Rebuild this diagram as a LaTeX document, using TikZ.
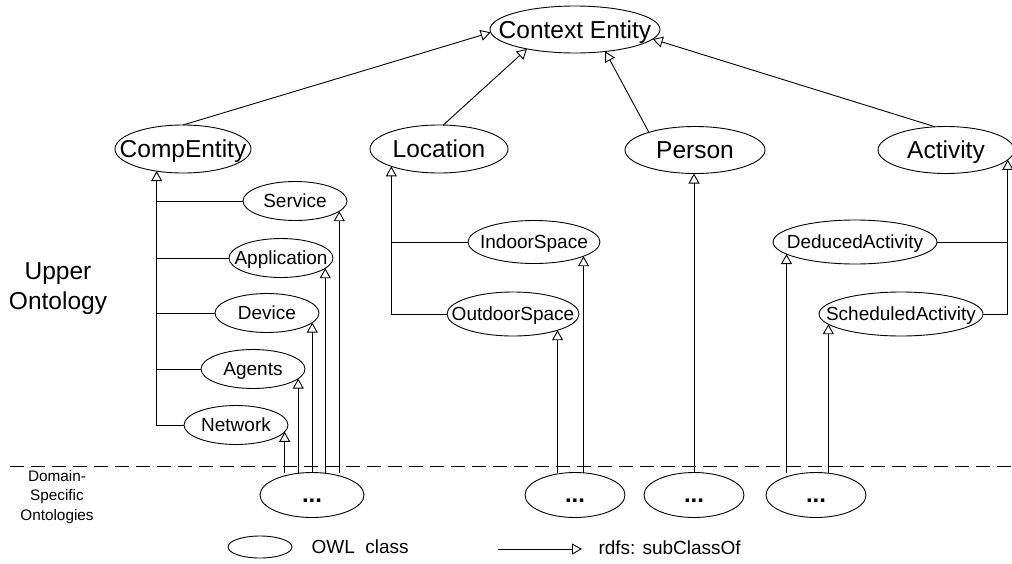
\documentclass[tikz,border=0pt]{standalone}
\usepackage{fontspec}
\setmainfont{Liberation Sans}
\usetikzlibrary{arrows.meta,shapes.geometric}
\tikzset{
  cls/.style 2 args={ellipse, draw, line width=0.9pt, minimum width=#1, minimum height=#2,
    inner sep=0pt, outer sep=0pt,
    execute at begin node={\hbox to 0pt\bgroup\hss},
    execute at end node={\hss\egroup}},
  big/.style={font=\fontsize{24.5}{30}\selectfont, text height=17.6pt, text depth=0pt},
  small/.style={font=\fontsize{19}{22}\selectfont, text height=13.7pt, text depth=0pt},
  dots/.style={font=\fontsize{24}{26}\selectfont\bfseries, text height=14pt, text depth=0pt},
  sub/.style={-{Triangle[open,length=10pt,width=11pt]}, line width=0.9pt},
  link/.style={line width=0.9pt},
}
\begin{document}
\begin{tikzpicture}[x=1pt,y=-1pt]
\useasboundingbox (0,0) rectangle (1012,563);
% upper classes
\node[cls={170pt}{47pt}, big] (ctx) at (575,29.5) {Context Entity};
\node[cls={136pt}{48pt}, big] (comp) at (183,149) {CompEntity};
\node[cls={138pt}{48pt}, big] (loc) at (439,149) {Location};
\node[cls={140pt}{47pt}, big] (per) at (695,150) {Person};
\node[cls={136pt}{47pt}, big] (act) at (946,150) {Activity};
% CompEntity children
\node[cls={104pt}{39pt}, small] (svc) at (295,201) {Service};
\node[cls={104pt}{39pt}, small] (app) at (281,258) {Application};
\node[cls={104pt}{39pt}, small] (dev) at (267,313) {Device};
\node[cls={104pt}{39pt}, small] (agt) at (253,369) {Agents};
\node[cls={104pt}{39pt}, small] (net) at (236,425) {Network};
% Location children
\node[cls={132pt}{43pt}, small] (ind) at (534,242) {IndoorSpace};
\node[cls={132pt}{44pt}, small] (out) at (513,314) {OutdoorSpace};
% Activity children
\node[cls={164pt}{44pt}, small] (ded) at (855,242) {DeducedActivity};
\node[cls={164pt}{44pt}, small] (sch) at (901,314) {ScheduledActivity};
% domain-specific
\node[cls={104pt}{45pt}, dots] (d1) at (312,495) {...};
\node[cls={100pt}{45pt}, dots] (d2) at (575,495) {...};
\node[cls={100pt}{45pt}, dots] (d3) at (694,495) {...};
\node[cls={100pt}{45pt}, dots] (d4) at (816,495) {...};
% side labels
\node[font=\fontsize{24.5}{30}\selectfont, align=center] (upper) at (58,289) {Upper\\Ontology};
\node[font=\fontsize{15.3}{19.5}\selectfont, align=center] (dom) at (57,497) {Domain-\\Specific\\Ontologies};
% separator
\draw[line width=0.9pt, dash pattern=on 14pt off 7pt] (10,466) -- (1012,466);
% top level arrows
\draw[sub] (comp.north) -- (ctx.182);
\draw[sub] (loc.80) -- (ctx.202);
\draw[sub] (per.159) -- (ctx.-36);
\draw[sub] (act.115) -- (ctx.-7);
% CompEntity bus
\draw[sub] (net.west) -| (comp.220);
\draw[link] (svc.west) -- (svc.west -| comp.220);
\draw[link] (app.west) -- (app.west -| comp.220);
\draw[link] (dev.west) -- (dev.west -| comp.220);
\draw[link] (agt.west) -- (agt.west -| comp.220);
% Location bus
\draw[sub] (out.west) -| (loc.200);
\draw[link] (ind.west) -- (ind.west -| loc.200);
% Activity bus
\draw[sub] (sch.east) -| (act.-9);
\draw[link] (ded.east) -- (ded.east -| act.-9);
% domain-specific arrows
\draw[sub] (d1.north -| net.-8) -- (net.-8);
\draw[sub] (d1.north -| agt.-12) -- (agt.-12);
\draw[sub] (d1.north -| dev.-12) -- (dev.-12);
\draw[sub] (d1.north -| app.-13) -- (app.-13);
\draw[sub] (d1.north -| svc.-13) -- (svc.-13);
\draw[sub] (d2.north -| out.-20) -- (out.-20);
\draw[sub] (d2.north -| ind.-16) -- (ind.-16);
\draw[sub] (d3.north) -- (d3.north |- per.south);
\draw[sub] (d4.north -| ded.190) -- (ded.190);
\draw[sub] (d4.north -| sch.188) -- (sch.188);
% legend
\node[cls={64pt}{22pt}] (leg) at (260,547) {};
\node[font=\fontsize{19}{22}\selectfont, anchor=west] (legt) at (308,547) {OWL\ \ class};
\coordinate (la) at (498,549);
\coordinate (lb) at (582,549);
\draw[sub] (la) -- (lb);
\node[font=\fontsize{19}{22}\selectfont, anchor=west] (lbt) at (595,548) {rdfs: subClassOf};
\end{tikzpicture}
\end{document}
